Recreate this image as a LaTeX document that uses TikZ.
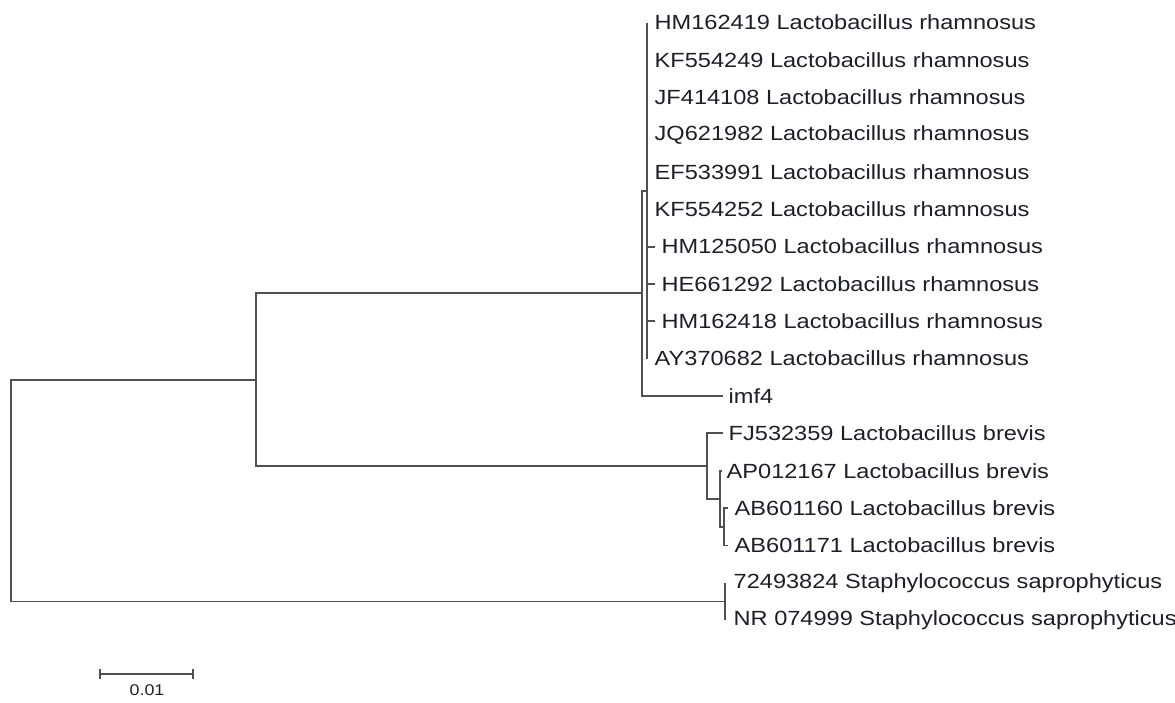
\documentclass[tikz,border=0pt]{standalone}
\usepackage{fontspec}
\newfontfamily\labfont[FakeStretch=1.15]{Liberation Sans}
\definecolor{linegray}{RGB}{80,80,80}
\definecolor{labelink}{RGB}{30,30,40}
\begin{document}
\begin{tikzpicture}[x=1pt,y=-1pt,
  branch/.style={line width=1.8pt, draw=linegray, line cap=butt, line join=miter},
  taxon/.style={font=\labfont\fontsize{20.5}{22}\selectfont, text=labelink, anchor=west, inner sep=0pt},
  scalelabel/.style={font=\labfont\fontsize{15.5}{17}\selectfont, text=labelink, inner sep=0pt}]
\useasboundingbox (0,0) rectangle (1175,702);

% leaf tips
\coordinate (t0)  at (647,22.5);
\coordinate (t1)  at (647,59.85);
\coordinate (t2)  at (647,97.2);
\coordinate (t3)  at (647,134.55);
\coordinate (t4)  at (647,171.9);
\coordinate (t5)  at (647,209.25);
\coordinate (t6)  at (655,246.6);
\coordinate (t7)  at (655,283.95);
\coordinate (t8)  at (655,321.3);
\coordinate (t9)  at (647,358.65);
\coordinate (t10) at (723,396);
\coordinate (t11) at (723,433.35);
\coordinate (t12) at (722,470.7);
\coordinate (t13) at (728,508.05);
\coordinate (t14) at (728,545.4);
\coordinate (t15) at (725,582.75);
\coordinate (t16) at (725,620.1);

% internal nodes
\coordinate (R1)   at (647,190.6);
\coordinate (R2)   at (642,293.3);
\coordinate (B3)   at (724,526.7);
\coordinate (B2)   at (720,498.7);
\coordinate (B1)   at (707,466);
\coordinate (N2)   at (256,379.7);
\coordinate (S)    at (725,601.4);
\coordinate (root) at (11,490.5);

% labels
\node[taxon] (l0)  at (654.5,22.5)  {HM162419 Lactobacillus rhamnosus};
\node[taxon] (l1)  at (654.5,59.85) {KF554249 Lactobacillus rhamnosus};
\node[taxon] (l2)  at (654.5,97.2)  {JF414108 Lactobacillus rhamnosus};
\node[taxon] (l3)  at (654.5,134.55){JQ621982 Lactobacillus rhamnosus};
\node[taxon] (l4)  at (654.5,171.9) {EF533991 Lactobacillus rhamnosus};
\node[taxon] (l5)  at (654.5,209.25){KF554252 Lactobacillus rhamnosus};
\node[taxon] (l6)  at (661.5,246.6) {HM125050 Lactobacillus rhamnosus};
\node[taxon] (l7)  at (661.5,283.95){HE661292 Lactobacillus rhamnosus};
\node[taxon] (l8)  at (661.5,321.3) {HM162418 Lactobacillus rhamnosus};
\node[taxon] (l9)  at (654.5,358.65){AY370682 Lactobacillus rhamnosus};
\node[taxon] (l10) at (728.5,396)   {imf4};
\node[taxon] (l11) at (728.5,433.35){FJ532359 Lactobacillus brevis};
\node[taxon] (l12) at (726.5,470.7) {AP012167 Lactobacillus brevis};
\node[taxon] (l13) at (734.5,508.05){AB601160 Lactobacillus brevis};
\node[taxon] (l14) at (734.5,545.4) {AB601171 Lactobacillus brevis};
\node[taxon] (l15) at (733.5,582.75){72493824 Staphylococcus saprophyticus};
\node[taxon] (l16) at (733.5,620.1) {NR 074999 Staphylococcus saprophyticus};

% branches
\draw[branch] (root) |- (N2);
\draw[branch] (root) |- (S);
\draw[branch] (N2) |- (R2);
\draw[branch] (N2) |- (B1);
\draw[branch] (R2) |- (R1);
\draw[branch] (R2) |- (t10);
\foreach \i in {0,...,9} {\draw[branch] (R1) |- (t\i);}
\draw[branch] (B1) |- (t11);
\draw[branch] (B1) |- (B2);
\draw[branch] (B2) |- (t12);
\draw[branch] (B2) |- (B3);
\draw[branch] (B3) |- (t13);
\draw[branch] (B3) |- (t14);
\draw[branch] (S) |- (t15);
\draw[branch] (S) |- (t16);

% scale bar
\coordinate (s0) at (100,674);
\coordinate (s1) at (193,674);
\draw[branch] (s0) -- (s1);
\draw[branch] ([yshift=-5pt]s0) -- ([yshift=5pt]s0);
\draw[branch] ([yshift=-5pt]s1) -- ([yshift=5pt]s1);
\node[scalelabel] (sl) at (147,690) {0.01};
\end{tikzpicture}
\end{document}
